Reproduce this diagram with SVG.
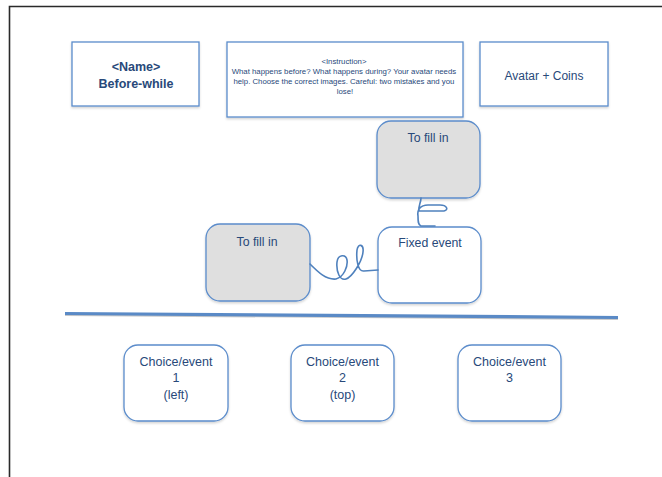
<svg xmlns="http://www.w3.org/2000/svg" width="662" height="477" viewBox="0 0 662 477">
<defs>
<filter id="sh" x="-10%" y="-10%" width="120%" height="130%">
<feDropShadow dx="0" dy="1.5" stdDeviation="1" flood-color="#000" flood-opacity="0.18"/>
</filter>
</defs>
<style>
.box{fill:#fff;stroke:#5b8ccb;stroke-width:1.3;filter:url(#sh)}
.gray{fill:#dfdfdf;stroke:#5b8ccb;stroke-width:1.3;filter:url(#sh)}
.t{font-family:"Liberation Sans",Arial,sans-serif;fill:#28497a;text-anchor:middle}
.conn{fill:none;stroke:#4f81bd;stroke-width:1.6;stroke-linecap:round;stroke-linejoin:round}
</style>
<rect x="0" y="0" width="662" height="477" fill="#fff"/>
<path d="M9.5,477 V6.5 H662" fill="none" stroke="#2a2a2a" stroke-width="1.6"/>
<g id="name">
<rect class="box" x="72" y="42" width="127" height="64"/>
<text class="t" x="136" y="71" font-size="12.5" font-weight="bold">&lt;Name&gt;</text>
<text class="t" x="136" y="88" font-size="12.5" font-weight="bold">Before-while</text>
</g>
<g id="instruction">
<rect class="box" x="227" y="42" width="236" height="75"/>
<text class="t" font-size="7.8">
<tspan x="345" y="63.5">&lt;Instruction&gt;</tspan>
<tspan x="345" y="73.5">What happens before? What happens during? Your avatar needs</tspan>
<tspan x="345" y="83.5">help. Choose the correct images. Careful: two mistakes and you</tspan>
<tspan x="345" y="93.5">lose!</tspan>
</text>
</g>
<g id="avatar">
<rect class="box" x="480" y="42" width="128" height="64"/>
<text class="t" x="544" y="79.5" font-size="12">Avatar + Coins</text>
</g>
<g id="fill-top">
<rect class="gray" x="377" y="121" width="103" height="77" rx="14"/>
<text class="t" x="428" y="142" font-size="12.3">To fill in</text>
</g>
<g id="fill-left">
<rect class="gray" x="206" y="224" width="104" height="77" rx="14"/>
<text class="t" x="257" y="245.5" font-size="12.3">To fill in</text>
</g>
<g id="fixed">
<rect class="box" x="378" y="227" width="103" height="76" rx="14"/>
<text class="t" x="430" y="247" font-size="12.3">Fixed event</text>
</g>
<g id="connectors">
<path class="conn" d="M310,264 C318,272 326,280 336,279 C344,277 348,266 347,260 C346,254 338,254 337,262 C336,272 340,281 346,279 C352,277 362,262 363,252 C364,244 358,243 357,250 C356,260 358,272 364,271 L378,270"/>
<path class="conn" d="M421,198 C421,203 418,206 419,211 L444,211 C449,210 447,205 440,205 L428,205 C420,205 417,210 418,216 C418,221 418,225 421,226 L435,226"/>
</g>
<g id="divider">
<line x1="65" y1="315" x2="618" y2="319" stroke="#c9c9c9" stroke-width="2"/>
<line x1="65" y1="313.5" x2="618" y2="317.5" stroke="#5a8ac6" stroke-width="3.2"/>
</g>
<g id="choice1">
<rect class="box" x="124" y="345" width="104" height="76" rx="14"/>
<text class="t" font-size="12.5"><tspan x="176" y="365.5">Choice/event</tspan><tspan x="176" y="381.5">1</tspan><tspan x="176" y="398.5">(left)</tspan></text>
</g>
<g id="choice2">
<rect class="box" x="291" y="345" width="103" height="76" rx="14"/>
<text class="t" font-size="12.5"><tspan x="342.5" y="365.5">Choice/event</tspan><tspan x="342.5" y="381.5">2</tspan><tspan x="342.5" y="398.5">(top)</tspan></text>
</g>
<g id="choice3">
<rect class="box" x="458" y="345" width="103" height="76" rx="14"/>
<text class="t" font-size="12.5"><tspan x="509.5" y="365.5">Choice/event</tspan><tspan x="509.5" y="381.5">3</tspan></text>
</g>
</svg>
